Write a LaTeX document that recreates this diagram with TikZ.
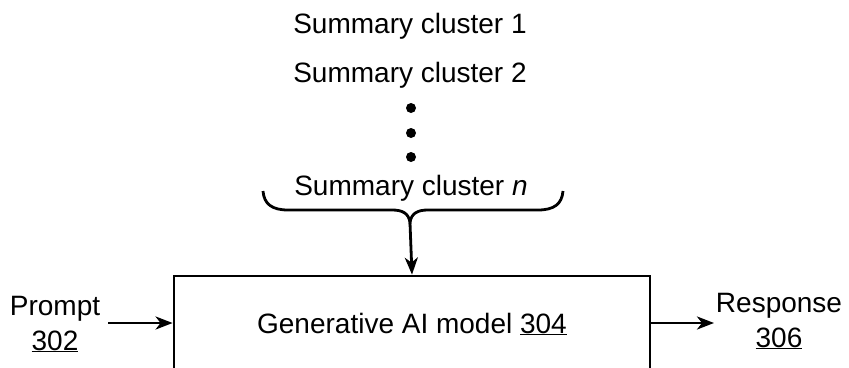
\documentclass[tikz,border=0pt]{standalone}
\usepackage{fontspec}
\setmainfont{Liberation Sans}
\usetikzlibrary{arrows.meta}
\begin{document}
\begin{tikzpicture}[x=1pt,y=-1pt,
  lbl/.style={inner sep=0pt,anchor=base,font=\fontsize{28}{34}\selectfont},
  line/.style={line width=2.8pt},
  arr/.style={line, -{Stealth[length=17pt,width=13pt,inset=5pt]}},
  modelbox/.style={draw,line width=2.8pt,minimum width=476pt,minimum height=94pt,
    text height=20pt,text depth=0pt,inner sep=0pt,font=\fontsize{28}{34}\selectfont},
  dot/.style={circle,fill=black,inner sep=0pt,minimum size=10pt}]
\useasboundingbox (0,0) rectangle (849,367);
\clip (0,0) rectangle (849,367);

% stacked summary clusters
\node[lbl] (c1) at (410,33) {Summary cluster 1};
\node[lbl] (c2) at (410,82) {Summary cluster 2};
\node[dot] (d1) at (411,108) {};
\node[dot] (d2) at (411,133) {};
\node[dot] (d3) at (411,157) {};
\node[lbl] (cn) at (411,195) {Summary cluster \textit{n}};

% model block
\node[modelbox] (model) at (412,323) {Generative AI model \underline{304}};

% input and output labels
\node[lbl] (prompt) at (55,315) {Prompt};
\node[lbl] (p302) at (55,350) {\underline{302}};
\node[lbl] (resp) at (779,312) {Response};
\node[lbl] (r306) at (779,347) {\underline{306}};

% brace under the clusters
\coordinate (btip) at (410,223);
\draw[line] (263,191) .. controls (264,204) and (272,210) .. (288,210)
  -- (392,210) .. controls (402,210) and (409,213) .. (btip)
  .. controls (411,213) and (418,210) .. (428,210)
  -- (538,210) .. controls (554,210) and (562,204) .. (563,191);
\draw[arr] (btip) -- (model.north);

% connectors
\coordinate (pin) at (108,323);
\coordinate (rout) at (714,323);
\draw[arr] (pin) -- (model.west |- pin);
\draw[arr] (model.east |- rout) -- (rout);
\end{tikzpicture}
\end{document}
